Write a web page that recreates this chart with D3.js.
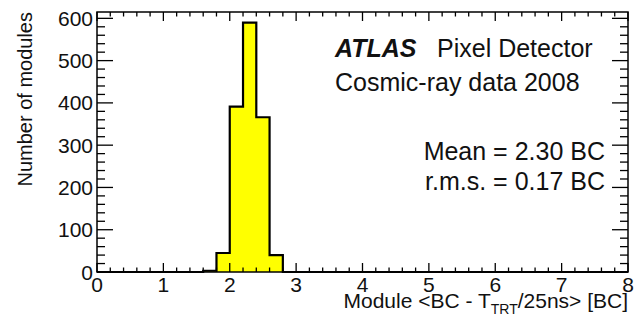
<html>
<head>
<meta charset="utf-8">
<script src="https://cdn.jsdelivr.net/npm/d3@7"></script>
<style>
  body { margin: 0; background: #fff; }
  text { font-family: "Liberation Sans", Arial, Helvetica, sans-serif; fill: #111; }
</style>
</head>
<body>
<svg id="chart" width="644" height="315"></svg>
<script>

// histogram bins (low edge, width 0.2 BC)
var binLow = [1.6, 1.8, 2.0, 2.2, 2.4, 2.6]
var binWidth = 0.2
var counts = [3, 45, 391, 590, 366, 40]

var xTicks = [0, 1, 2, 3, 4, 5, 6, 7, 8]
var yTicks = [0, 100, 200, 300, 400, 500, 600]

var xTitle = "Module <BC - T"
var xTitleSub = "TRT"
var xTitleEnd = "/25ns> [BC]"
var yTitle = "Number of modules"
var labelLines = ["Cosmic-ray data 2008"]
var statLines = ["Mean = 2.30 BC", "r.m.s. = 0.17 BC"]

var svg = d3.select('#chart')
var padL = 97, padR = 628, padT = 12, padB = 272

var x = d3.scaleLinear().domain([0, 8]).range([padL, padR])
var y = d3.scaleLinear().domain([0, 615]).range([padB, padT])

// step outline only (no lines between bins), from 0 to 8
var pts = [[0, 0], [binLow[0], 0]]
binLow.forEach(function(lo, i) {
  pts.push([lo, counts[i]], [lo + binWidth, counts[i]])
})
pts.push([binLow[binLow.length - 1] + binWidth, 0], [8, 0])

var line = d3.line().x(function(d){ return x(d[0]) }).y(function(d){ return y(d[1]) })

svg.append('path')
  .attr('d', line(pts))
  .attr('fill', '#ffff00')
  .attr('stroke', '#000')
  .attr('stroke-width', 2.2)
  .attr('stroke-linejoin', 'miter')

// frame
svg.append('rect')
  .attr('x', padL).attr('y', padT)
  .attr('width', padR - padL).attr('height', padB - padT)
  .attr('fill', 'none').attr('stroke', '#000').attr('stroke-width', 1.5)

// ticks: ROOT style, inside on all four sides
var ticks = svg.append('g').attr('stroke', '#000').attr('stroke-width', 1.3)

var xMinor = d3.range(0, 8.001, 0.2)
xMinor.forEach(function(v) {
  var major = Math.abs(v - Math.round(v)) < 1e-6
  var len = major ? 9 : 4.5
  ticks.append('line').attr('x1', x(v)).attr('x2', x(v)).attr('y1', padB).attr('y2', padB - len)
  ticks.append('line').attr('x1', x(v)).attr('x2', x(v)).attr('y1', padT).attr('y2', padT + len)
})

var yMinor = d3.range(0, 615, 20)
yMinor.forEach(function(v) {
  var major = v % 100 === 0
  var len = major ? 16 : 8
  ticks.append('line').attr('y1', y(v)).attr('y2', y(v)).attr('x1', padL).attr('x2', padL + len)
  ticks.append('line').attr('y1', y(v)).attr('y2', y(v)).attr('x1', padR).attr('x2', padR - len)
})

// tick labels
svg.append('g').selectAll('text').data(yTicks).enter().append('text')
  .attr('x', 93).attr('y', function(d){ return y(d) })
  .attr('dy', '0.36em')
  .attr('text-anchor', 'end')
  .attr('font-size', 21)
  .text(String)

svg.append('g').selectAll('text').data(xTicks).enter().append('text')
  .attr('x', function(d){ return x(d) }).attr('y', 292)
  .attr('text-anchor', 'middle')
  .attr('font-size', 21)
  .text(String)

// axis titles
var xt = svg.append('text')
  .attr('x', padR).attr('y', 308)
  .attr('text-anchor', 'end')
  .attr('font-size', 21)
xt.append('tspan').text(xTitle)
xt.append('tspan').attr('font-size', 14).attr('dy', 6).text(xTitleSub)
xt.append('tspan').attr('dy', -6).text(xTitleEnd)

svg.append('text')
  .attr('transform', 'translate(32,' + padT + ') rotate(-90)')
  .attr('text-anchor', 'end')
  .attr('font-size', 20)
  .text(yTitle)

// labels
svg.append('text')
  .attr('x', 335).attr('y', 57)
  .attr('font-size', 25)
  .attr('font-weight', 'bold').attr('font-style', 'italic')
  .text('ATLAS')
svg.append('text')
  .attr('x', 437).attr('y', 57)
  .attr('font-size', 25)
  .text('Pixel Detector')

svg.selectAll('.lab').data(labelLines).enter().append('text')
  .attr('x', 335).attr('y', 91)
  .attr('font-size', 25)
  .text(String)

svg.selectAll('.stat').data(statLines).enter().append('text')
  .attr('x', 605).attr('y', function(d, i){ return 160 + i * 30 })
  .attr('text-anchor', 'end')
  .attr('font-size', 25)
  .text(String)

</script>
</body>
</html>
